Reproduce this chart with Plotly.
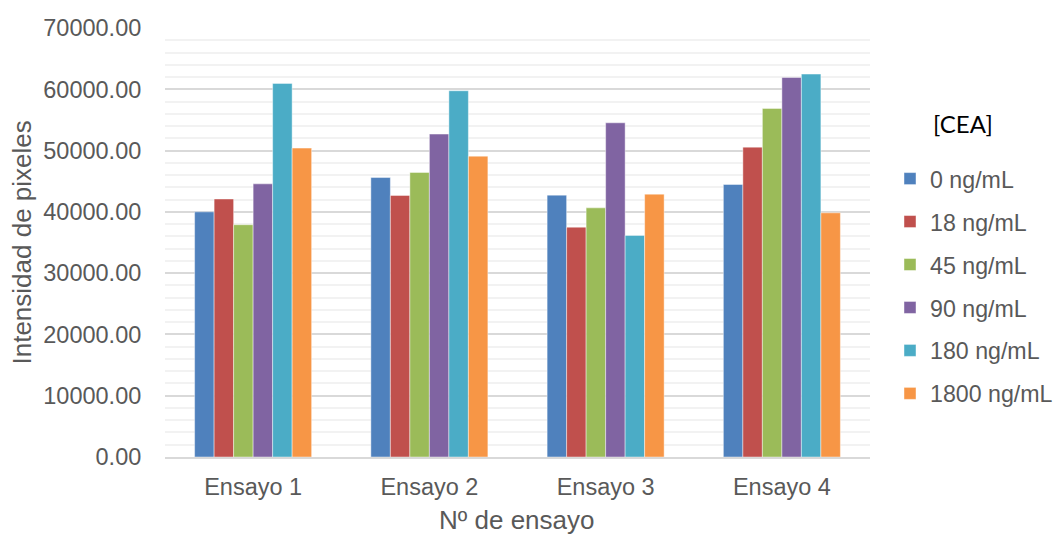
import plotly.graph_objects as go

# Trials on the x axis
ensayos = ["Ensayo 1", "Ensayo 2", "Ensayo 3", "Ensayo 4"]

# Pixel intensity per CEA concentration, one list per concentration
conc_0 = [40000, 45600, 42730, 44470]
conc_18 = [42100, 42680, 37500, 50560]
conc_45 = [37900, 46430, 40650, 56880]
conc_90 = [44570, 52690, 54530, 61940]
conc_180 = [60960, 59760, 36150, 62480]
conc_1800 = [50400, 49090, 42890, 39840]

series_names = ["0 ng/mL", "18 ng/mL", "45 ng/mL", "90 ng/mL", "180 ng/mL", "1800 ng/mL"]
series_values = [conc_0, conc_18, conc_45, conc_90, conc_180, conc_1800]
series_colors = ["#4F81BD", "#C0504D", "#9BBB59", "#8064A2", "#4BACC6", "#F79646"]

y_ticks = [0, 10000, 20000, 30000, 40000, 50000, 60000, 70000]

FONT = "Liberation Sans, Arial, sans-serif"
GREY = "#595959"
TICK_SIZE = 23.5
LEGEND_SIZE = 23.2
TITLE_SIZE = 26

# Plot-area geometry in pixels, used to place the free-standing text
W, H = 1056, 534
L, R, T, B = 165, 186, 28, 77
PW, PH = W - L - R, H - T - B


def px_x(px):
    return (px - L) / PW


def px_y(py):
    return (H - B - py) / PH


fig = go.Figure()
for name, vals, col in zip(series_names, series_values, series_colors):
    fig.add_trace(go.Bar(
        x=ensayos, y=vals, name=name, legendgroup=name,
        marker=dict(color=col, line=dict(color="rgba(255,255,255,0.55)", width=0.8)),
    ))

fig.update_layout(
    width=W, height=H,
    margin=dict(l=L, r=R, t=T, b=B),
    paper_bgcolor="white", plot_bgcolor="white",
    barmode="group", bargap=0.336, bargroupgap=0,
    font=dict(family=FONT, size=TICK_SIZE, color=GREY),
    showlegend=True,
    legend=dict(
        xref="container", yref="container",
        x=890 / W, y=1 - 157 / H, xanchor="left", yanchor="top",
        font=dict(family=FONT, size=LEGEND_SIZE, color=GREY),
        tracegroupgap=9.8, itemwidth=30,
        bgcolor="rgba(0,0,0,0)",
    ),
    xaxis=dict(
        showline=True, linecolor="#D9D9D9", linewidth=1.5,
        ticks="outside", ticklen=8, tickcolor="rgba(0,0,0,0)",
        tickfont=dict(family=FONT, size=TICK_SIZE, color=GREY),
        showgrid=False,
    ),
    yaxis=dict(
        range=[0, 70000], tickvals=y_ticks, tickformat=".2f",
        ticks="outside", ticklen=18, tickcolor="rgba(0,0,0,0)",
        tickfont=dict(family=FONT, size=TICK_SIZE, color=GREY),
        showgrid=True, gridcolor="#D9D9D9", gridwidth=1.5,
        minor=dict(dtick=2000, showgrid=True, gridcolor="#F2F2F2", gridwidth=1.5),
        zeroline=False, showline=False,
    ),
    annotations=[
        dict(text="Intensidad de pixeles", xref="paper", yref="paper",
             x=px_x(21), y=px_y(242.5), textangle=-90, showarrow=False,
             xanchor="center", yanchor="middle",
             font=dict(family=FONT, size=TITLE_SIZE, color=GREY)),
        dict(text="Nº de ensayo", xref="paper", yref="paper",
             x=px_x(516), y=px_y(519.5), showarrow=False,
             xanchor="center", yanchor="middle",
             font=dict(family=FONT, size=TITLE_SIZE, color=GREY)),
        dict(text="[CEA]", xref="paper", yref="paper",
             x=px_x(963), y=px_y(123), showarrow=False,
             xanchor="center", yanchor="middle",
             font=dict(family="Lato, Open Sans, sans-serif", size=24, color="black")),
    ],
)

fig.write_html("out.html")
